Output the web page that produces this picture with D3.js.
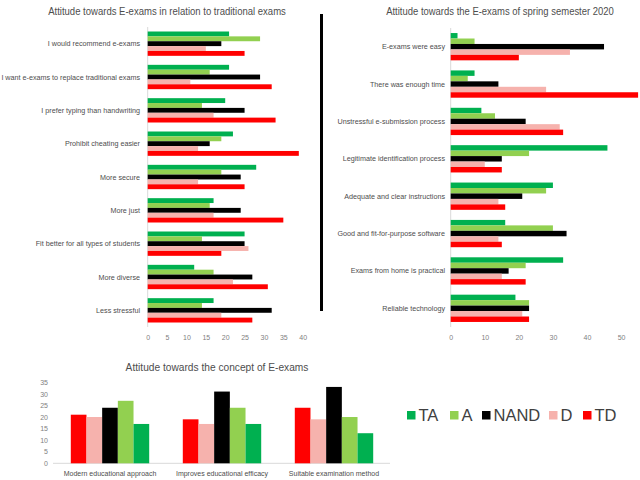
<!DOCTYPE html>
<html><head><meta charset="utf-8">
<script src="https://cdn.jsdelivr.net/npm/d3@7"></script>
<style>body{margin:0;background:#fff}svg{display:block;font-family:"Liberation Sans",Arial,sans-serif}</style>
</head><body>
<svg id="c" width="640" height="480"></svg>
<script>
const seriesNames = ["TA", "A", "NAND", "D", "TD"];

const leftCats = ["I would recommend e-exams", "I want e-exams to replace traditional exams", "I prefer typing than handwriting", "Prohibit cheating easier", "More secure", "More just", "Fit better for all types of students", "More diverse ", "Less stressful"];
const leftTA   = [21, 21, 20, 22, 28, 17, 25, 12, 17];
const leftA    = [29, 16, 14, 19, 19, 16, 14, 17, 14];
const leftNAND = [19, 29, 25, 16, 24, 24, 25, 27, 32];
const leftD    = [15, 11, 17, 13, 13, 17, 26, 22, 19];
const leftTD   = [25, 32, 33, 39, 25, 35, 19, 31, 27];
const leftTicks = [0, 5, 10, 15, 20, 25, 30, 35, 40];

const rightCats = ["E-exams were easy", "There was enough time", "Unstressful e-submission process", "Legitimate identification process", "Adequate and clear instructions", "Good and fit-for-purpose software", "Exams from home is practical", "Reliable technology"];
const rightTA   = [2, 7, 9, 46, 30, 16, 33, 19];
const rightA    = [7, 5, 13, 23, 28, 30, 22, 23];
const rightNAND = [45, 14, 22, 15, 21, 34, 17, 23];
const rightD    = [35, 28, 32, 10, 14, 14, 15, 21];
const rightTD   = [20, 55, 33, 15, 16, 15, 22, 23];
const rightTicks = [0, 10, 20, 30, 40, 50];

const bottomCats = ["Modern educational approach", "Improves educational efficacy", "Suitable examination method"];
const bottomTD   = [21, 19, 24];
const bottomD    = [20, 17, 19];
const bottomNAND = [24, 31, 33];
const bottomA    = [27, 24, 20];
const bottomTA   = [17, 17, 13];
const bottomTicks = [0, 5, 10, 15, 20, 25, 30, 35];

const colors = {TA: "#00B050", A: "#92D050", NAND: "#000000", D: "#F6B2AD", TD: "#FF0000"};
const textCol = "#4d4d4d";

const svg = d3.select("#c");

// condensed title: scale horizontally to the target width
function title(x, y, txt, w) {
  const g = svg.append("g").attr("transform", `translate(${x},${y})`);
  const t = g.append("text").attr("x", 0).attr("y", 0).attr("text-anchor", "middle")
    .attr("font-size", 11).attr("fill", textCol).text(txt);
  const nat = t.node().getComputedTextLength();
  g.attr("transform", `translate(${x},${y}) scale(${w / nat},1)`);
}

function hbar(cats, vals, xDomain, xRange, yRange, ticks, labelX, ttl, titleX, titleW) {
  const g = svg.append("g");
  const x = d3.scaleLinear().domain(xDomain).range(xRange);
  const y = d3.scaleBand().domain(cats).range(yRange).paddingInner(0.27).paddingOuter(0.135);
  const ys = d3.scaleBand().domain(seriesNames).range([0, y.bandwidth()]);
  g.append("line").attr("x1", x(0)).attr("x2", x(0)).attr("y1", yRange[0]).attr("y2", yRange[1])
    .attr("stroke", "#d9d9d9").attr("stroke-width", 1);
  const rows = cats.map((c, i) => ({c, v: seriesNames.map(s => ({s, v: vals[s][i]}))}));
  const grp = g.selectAll("g.row").data(rows).join("g").attr("transform", d => `translate(0,${y(d.c)})`);
  grp.selectAll("rect").data(d => d.v).join("rect")
    .attr("x", x(0)).attr("y", d => ys(d.s)).attr("height", ys.bandwidth())
    .attr("width", d => x(d.v) - x(0)).attr("fill", d => colors[d.s]);
  g.selectAll("text.cat").data(cats).join("text").attr("class", "cat")
    .attr("x", labelX).attr("y", d => y(d) + y.bandwidth() / 2 + 2.5)
    .attr("text-anchor", "end").attr("font-size", 7.2).attr("fill", textCol).text(d => d);
  const ax = d3.axisBottom(x).tickValues(ticks).tickSize(0).tickPadding(0);
  const axg = g.append("g").attr("transform", `translate(0,${yRange[1] + 8})`).call(ax);
  axg.select(".domain").remove();
  axg.selectAll("text").attr("font-size", 7).attr("fill", "#7f7f7f").attr("font-family", "Liberation Sans, Arial, sans-serif");
  title(titleX, 15, ttl, titleW);
}

hbar(leftCats, {TA: leftTA, A: leftA, NAND: leftNAND, D: leftD, TD: leftTD},
  [0, 40], [147.7, 302.7], [27, 327], leftTicks, 140,
  "Attitude towards E-exams in relation to traditional exams", 167, 238);

hbar(rightCats, {TA: rightTA, A: rightA, NAND: rightNAND, D: rightD, TD: rightTD},
  [0, 55], [450.7, 638.1], [28, 327], rightTicks, 445,
  "Attitude towards the E-exams of spring semester 2020", 500, 228);

// separator
svg.append("line").attr("x1", 321.5).attr("x2", 321.5).attr("y1", 14).attr("y2", 311)
  .attr("stroke", "#000").attr("stroke-width", 3);

// bottom chart
{
  const bOrder = ["TD", "D", "NAND", "A", "TA"];
  const bVals = {TD: bottomTD, D: bottomD, NAND: bottomNAND, A: bottomA, TA: bottomTA};
  const x = d3.scaleBand().domain(bottomCats).range([54, 390]).paddingInner(0.30).paddingOuter(0.15);
  const xs = d3.scaleBand().domain(bOrder).range([0, x.bandwidth()]);
  const y = d3.scaleLinear().domain([0, 35]).range([463.3, 382.3]);
  const g = svg.append("g");
  g.append("line").attr("x1", 53).attr("x2", 390).attr("y1", y(0)).attr("y2", y(0))
    .attr("stroke", "#d9d9d9");
  const rows = bottomCats.map((c, i) => ({c, v: bOrder.map(s => ({s, v: bVals[s][i]}))}));
  const grp = g.selectAll("g.col").data(rows).join("g").attr("transform", d => `translate(${x(d.c)},0)`);
  grp.selectAll("rect").data(d => d.v).join("rect")
    .attr("x", d => xs(d.s)).attr("width", xs.bandwidth())
    .attr("y", d => y(d.v)).attr("height", d => y(0) - y(d.v)).attr("fill", d => colors[d.s]);
  const ay = d3.axisLeft(y).tickValues(bottomTicks).tickSize(0).tickPadding(0);
  const ayg = g.append("g").attr("transform", "translate(48,0)").call(ay);
  ayg.select(".domain").remove();
  ayg.selectAll("text").attr("font-size", 7).attr("fill", "#7f7f7f").attr("font-family", "Liberation Sans, Arial, sans-serif");
  g.selectAll("text.bc").data(bottomCats).join("text").attr("class", "bc")
    .attr("x", d => x(d) + x.bandwidth() / 2).attr("y", 476).attr("text-anchor", "middle")
    .attr("font-size", 7).attr("fill", textCol).text(d => d);
  title(217, 371, "Attitude towards the concept of E-exams", 183);
}

// legend
{
  const lx = [407, 450, 482, 549, 583];
  const lg = svg.append("g");
  const items = lg.selectAll("g").data(seriesNames).join("g").attr("transform", (d, i) => `translate(${lx[i]},0)`);
  items.append("rect").attr("x", 0).attr("y", 411).attr("width", 8.5).attr("height", 8.5).attr("fill", d => colors[d]);
  items.append("text").attr("x", 11.5).attr("y", 421).attr("font-size", 16.5).attr("fill", "#404040").text(d => d);
}
</script>
</body></html>
